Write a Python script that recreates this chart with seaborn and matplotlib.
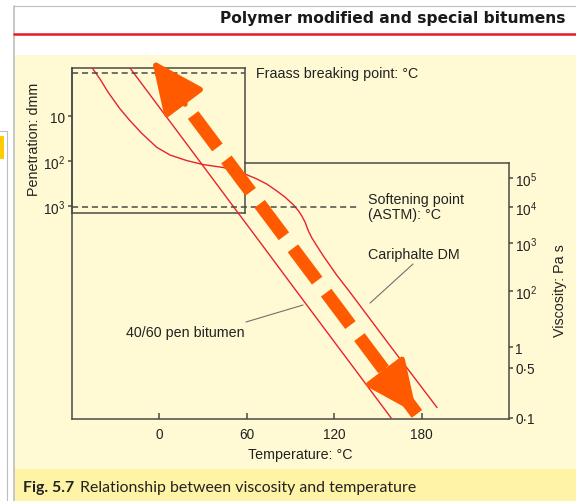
import numpy as np
import pandas as pd
import matplotlib
matplotlib.use("Agg")
import matplotlib.pyplot as plt
import seaborn as sns
from matplotlib.patches import Rectangle
from matplotlib.lines import Line2D
from matplotlib.ticker import NullLocator

# ---- values ----
temp_ticks = [0, 60, 120, 180]
visc_ticks = [0.1, 0.5, 1, 1e2, 1e3, 1e4, 1e5]
visc_tick_labels = ["0·1", "0·5", "1", "10$^2$", "10$^3$", "10$^4$", "10$^5$"]
pen_ticks = [10, 100, 1000]
pen_tick_labels = ["10", "10$^2$", "10$^3$"]

# 40/60 pen bitumen (straight line on the chart)
pen_temp = [-20.2, 36.2, 51.0, 69.5, 94.0, 122.7, 133.5, 159.1]
pen_visc = [6.2e8, 1e5, 1e4, 1e3, 1e2, 1, 0.5, 0.1]

# Cariphalte DM (polymer modified)
cariphalte_temp = [-46.1, -40.8, -35.1, -27.0, -20.2, -12.2, -1.9, 7.3, 18.7, 30.1,
                   43.9, 59.9, 66.8, 73.7, 80.5, 86.2, 91.9, 95.4, 97.7, 100.0,
                   102.2, 104.6, 108.0, 112.5, 117.1, 121.7, 130.2, 159.0, 170.0,
                   190.6]
cariphalte_visc = [6.2e8, 2.6e8, 8.9e7, 2.4e7, 9.5e6, 3.5e6, 1.15e6, 6.2e5, 4.0e5,
                   2.9e5, 2.3e5, 1.3e5, 9.3e4, 6.2e4, 3.6e4, 2.2e4, 1.2e4, 7.9e3,
                   5.7e3, 3.8e3, 2.2e3, 1.4e3, 880, 540, 340, 215, 100, 1, 0.5,
                   0.14]

fraass_visc = 4.2e8
softening_visc = 1e4

# overlay arrow tips (temperature, viscosity)
arrow_low = (176.8, 0.114)
arrow_high = (-5.1, 1.17e9)

# viscosity axis is not a plain log axis: tick spacing taken from the chart
visc_anchor_log = [-3, -1, np.log10(0.5), 0, 2, 3, 4, 5, 10]
visc_anchor_h = [1 - 2 * 71.5, 1, 51, 72, 128, 176, 212, 241, 241 + 5 * 29]


def visc_fwd(v):
    v = np.asarray(v, dtype=float)
    return np.interp(np.log10(np.clip(v, 1e-12, None)), visc_anchor_log, visc_anchor_h)


def visc_inv(h):
    return 10 ** np.interp(h, visc_anchor_h, visc_anchor_log)


df = pd.concat([
    pd.DataFrame({"temp": pen_temp, "visc": pen_visc, "binder": "40/60 pen bitumen"}),
    pd.DataFrame({"temp": cariphalte_temp, "visc": cariphalte_visc, "binder": "Cariphalte DM"}),
])

sns.set_theme(style="white")
plt.rcParams["font.family"] = ["Liberation Sans", "DejaVu Sans"]
plt.rcParams["mathtext.fontset"] = "custom"
plt.rcParams["mathtext.rm"] = "Liberation Sans"
plt.rcParams["mathtext.it"] = "Liberation Sans:italic"

W, H = 576, 502
fig = plt.figure(figsize=(W / 100, H / 100), dpi=100)
fig.patch.set_facecolor("white")

frame = "#4a4a4a"
red = "#e8232d"
orange = "#ff5a00"
grey = "#707070"
ink = "#222222"

# page background pieces
fig.add_artist(Rectangle((15 / W, 1 - 470 / H), 1, 414 / H, transform=fig.transFigure,
                         facecolor="#fffad3", edgecolor="none", zorder=-5))
fig.add_artist(Rectangle((15 / W, 0), 1, 32 / H, transform=fig.transFigure,
                         facecolor="#fff3a6", edgecolor="none", zorder=-5))
fig.add_artist(Line2D([14 / W, 14 / W], [0, 1 - 7 / H], transform=fig.transFigure,
                      color="#bdbdbd", lw=1.2))
fig.add_artist(Line2D([14 / W, 1], [1 - 7 / H, 1 - 7 / H], transform=fig.transFigure,
                      color="#bdbdbd", lw=0.8))
fig.add_artist(Line2D([7 / W, 7 / W], [0, 1 - 132 / H], transform=fig.transFigure,
                      color="#bdbdbd", lw=0.8))
fig.add_artist(Line2D([0, 7 / W], [1 - 132 / H, 1 - 132 / H], transform=fig.transFigure,
                      color="#bdbdbd", lw=0.8))
fig.add_artist(Rectangle((0, 1 - 160 / H), 4 / W, 23 / H, transform=fig.transFigure,
                         facecolor="#ffcc00", edgecolor="none"))
fig.add_artist(Line2D([14 / W, 1], [1 - 34.5 / H, 1 - 34.5 / H], transform=fig.transFigure,
                      color="#e41b23", lw=1.8))
fig.text(566 / W, 1 - 19 / H, "Polymer modified and special bitumens", ha="right",
         va="center", fontsize=11.2, fontweight="bold", family=["DejaVu Sans"],
         color="#1a1a1a")
cap = fig.text(23 / W, 1 - 488 / H, "Fig. 5.7", ha="left", va="center", fontsize=11.4,
               fontweight="bold", family=["Lato", "DejaVu Sans"], color=ink)

# penetration box
pax = fig.add_axes([72 / W, (H - 214) / H, 173 / W, 145 / H], zorder=1)
pax.set_facecolor("none")
pax.set_yscale("log")
pax.set_ylim(10 ** 3.156, 10 ** -0.067)
pax.set_xticks([])
pax.set_yticks(pen_ticks, pen_tick_labels)
pax.yaxis.set_minor_locator(NullLocator())
pax.tick_params(axis="y", direction="out", length=3, width=1.1, color=frame,
                labelsize=9.8, pad=2, left=True, labelcolor=ink)
for s in pax.spines.values():
    s.set_color(frame)
    s.set_linewidth(1.1)

# main chart
ax = fig.add_axes([72 / W, (H - 420) / H, 437 / W, 351 / H], zorder=2)
ax.set_facecolor("none")
ax.set_yscale("function", functions=(visc_fwd, visc_inv))
sns.lineplot(data=df, x="temp", y="visc", hue="binder", palette=[red, red],
             estimator=None, sort=False, lw=1.0, legend=False, ax=ax)
ax.set_xlim(-60, 240)
ax.set_ylim(visc_inv(0), visc_inv(351))

ax.set_xticks(temp_ticks, [str(t) for t in temp_ticks])
ax.yaxis.tick_right()
ax.set_yticks(visc_ticks, visc_tick_labels)
ax.yaxis.set_minor_locator(NullLocator())
ax.xaxis.set_minor_locator(NullLocator())
ax.tick_params(axis="x", direction="in", length=4, width=1.1, color=frame,
               labelsize=9.8, pad=6, bottom=True, labelcolor=ink)
ax.tick_params(axis="y", direction="out", length=3, width=1.1, color=frame,
               labelsize=9.8, pad=1.5, right=True, labelcolor=ink)
ax.set_xlabel("")
ax.set_ylabel("")
ax.spines["top"].set_visible(False)
for s in ["left", "bottom", "right"]:
    ax.spines[s].set_color(frame)
    ax.spines[s].set_linewidth(1.1)
ax.spines["right"].set_bounds(visc_inv(0), visc_inv(256))
ax.plot([59, 240], [visc_inv(256)] * 2, color=frame, lw=1.1, clip_on=False,
        solid_capstyle="projecting")

# reference lines
ax.hlines(fraass_visc, -60, 59, colors=frame, linestyles=(0, (4, 2.5)), lw=1.1)
ax.hlines(softening_visc, -60, 136, colors=frame, linestyles=(0, (4, 2.5)), lw=1.1)

# labels
txt = dict(fontsize=10.3, color=ink)
ax.text(66, fraass_visc, "Fraass breaking point: °C", ha="left", va="center", **txt)
ax.text(143, 1.05e4, "Softening point\n(ASTM): °C", ha="left", va="center",
        linespacing=1.05, **txt)
ax.text(143, 590, "Cariphalte DM", ha="left", va="center", **txt)
ax.text(18, 3.4, "40/60 pen bitumen", ha="center", va="center", **txt)
ax.annotate("", xy=(144.6, 37), xytext=(174.1, 365),
            arrowprops=dict(arrowstyle="-", color=grey, lw=0.8, shrinkA=0, shrinkB=0))
ax.annotate("", xy=(98.6, 31.6), xytext=(59.4, 7.8),
            arrowprops=dict(arrowstyle="-", color=grey, lw=0.8, shrinkA=0, shrinkB=0))

ax.text(0.522, -0.10, "Temperature: °C", transform=ax.transAxes, ha="center",
        va="center", **txt)
ax.text(1.117, 0.37, "Viscosity: Pa s", transform=ax.transAxes, ha="center",
        va="center", rotation=90, **txt)
ax.text(-0.087, 0.80, "Penetration: dmm", transform=ax.transAxes, ha="center",
        va="center", rotation=90, **txt)

# orange dashed double arrow overlay
ax.annotate("", xy=arrow_high, xytext=arrow_low, annotation_clip=False,
            arrowprops=dict(arrowstyle="-", color=orange, lw=9.4, capstyle="butt",
                            linestyle=(0, (3.1, 1.15)), shrinkA=0, shrinkB=0))
for tip, off in [(arrow_high, (33, -44)), (arrow_low, (-33, 44))]:
    ax.annotate("", xy=tip, xytext=off, textcoords="offset pixels",
                annotation_clip=False,
                arrowprops=dict(arrowstyle="-|>,head_length=33,head_width=15",
                                mutation_scale=1, color=orange, lw=4,
                                joinstyle="round", capstyle="round",
                                shrinkA=0, shrinkB=0))

# caption (bold figure number then plain text)
ax.annotate("Relationship between viscosity and temperature", xy=(1, 0.5),
            xycoords=cap, xytext=(4, 0), textcoords="offset points", ha="left",
            va="center", fontsize=11.4, family=["Lato", "DejaVu Sans"],
            color=ink, annotation_clip=False)

fig.savefig("out.png", dpi=100)
